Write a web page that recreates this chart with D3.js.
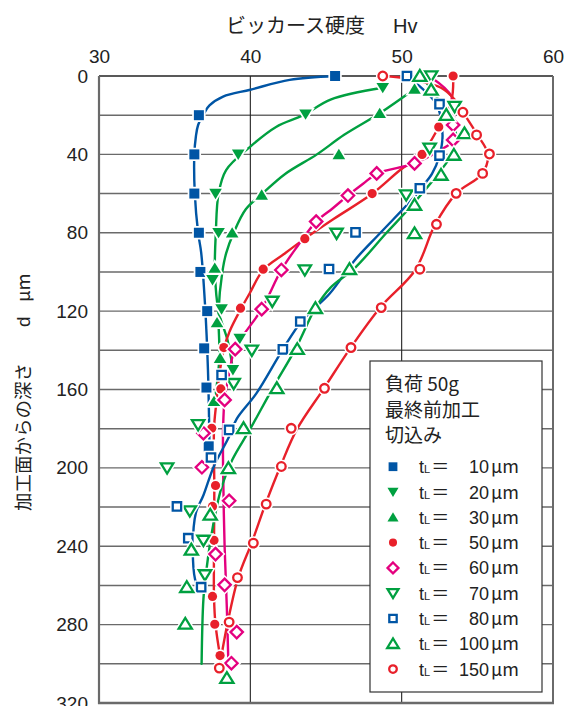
<!DOCTYPE html>
<html><head><meta charset="utf-8">
<script src="https://cdn.jsdelivr.net/npm/d3@7/dist/d3.min.js"></script>
<style>
html,body{margin:0;padding:0;background:#fff;}
svg{display:block;}
</style></head>
<body>
<script>
// ---------- data: [depth μm, Hv] ----------
const s10  = [[0,45.6],[20,36.6],[40,36.3],[60,36.3],[80,36.6],[100,36.7],[120,37.15],[139,36.95],[159,37.1],[189,37.25]];
const t10  = [[0,45.6],[2,42.6],[7,40],[10.5,38.2],[15,37.3],[19,36.95],[25,36.55],[31,36.4],[40,36.3],[60,36.33],[80,36.55],[90,36.75],[116,37.0],[150,37.2],[189,37.3]];
const s20  = [[6,48.75],[19.5,43.65],[40,39.2],[60,37.7],[80,37.9],[104,37.5],[119,38.1],[134,39.3],[150,38.85]];
const t20  = [[6,48.75],[12,45.3],[20,43.5],[26,41.7],[36,40],[48,38.4],[60,37.9],[80,37.72],[100,37.66],[120,37.9],[135,38.5],[150,38.85]];
const s30  = [[6.6,50.85],[19,48.55],[40,45.85],[60.7,40.75],[80,38.8],[98,37.65],[125.8,37.8],[144,38.0],[166,37.6]];
const t30  = [[6.6,50.85],[19,48.55],[30,46.2],[40,44.4],[50,42.3],[60,40.8],[68,39.7],[80,38.9],[90.5,38.4],[100,38.15],[120,37.9],[144,37.95],[166,37.65]];
const s50  = [[0,53.4],[26,52.45],[40,51.35],[60,48.05],[83,43.6],[98.6,40.85],[118.5,39.35],[138.6,38.25],[159.7,38.05],[179.8,37.45],[209,37.7],[219.7,37.5],[237,37.6],[265.6,37.5],[279.8,37.65],[295.8,38.0]];
const t50  = [[0,53.4],[12,53.3],[26,52.45],[40,51.3],[48,49.9],[60,48.07],[73,45.5],[83,43.6],[91,42.2],[99,40.85],[111,39.95],[119,39.37],[130,38.65],[139,38.25],[150,38.0],[167,37.75],[180,37.6],[210,37.62],[240,37.6],[266,37.6],[280,37.7],[296,38.0]];
const s60  = [[25,53.4],[32.6,53.4],[44.6,50.85],[49.7,48.35],[61,46.45],[74.3,44.35],[99,42.05],[119,40.75],[139.4,39.0],[165.3,38.3],[182.3,36.9],[199.7,36.8],[216.8,38.6],[244,37.7],[259.7,38.3],[283.8,39.1],[299.7,38.75]];
const t60  = [[1,52.0],[10.5,53.3],[25,53.45],[33,53.4],[38,52.5],[44.6,50.85],[49.7,48.4],[55,47.45],[61,46.45],[67.5,45.45],[74.3,44.35],[87,43.1],[99,42.05],[119,40.75],[139,39.0],[152,38.6],[165,38.3],[180,38.2],[200,38.2],[240,38.3],[272,38.45],[300,38.55]];
const s70  = [[0,51.95],[15.6,53.5],[36.9,51.85],[60.7,50.3],[80.3,45.7],[99,43.6],[115,41.45],[140,40.1],[157,38.9],[178,36.55],[200,34.5],[222,36.0],[237,36.9],[254.6,37.0]];
const t70  = [];
const s80  = [[0,50.35],[14.4,52.5],[40.6,52.5],[57.3,51.2],[79.8,46.95],[98.5,45.2],[125.3,43.3],[139.5,42.15],[152.6,38.1],[180.6,38.6],[194.7,37.4],[219.7,35.15],[235.9,35.9],[260.9,36.75]];
const t80  = [[0,50.35],[14.4,52.3],[30,52.7],[40.6,52.5],[50,52.0],[57,51.3],[62.4,50.75],[80,48.6],[94,46.9],[111,45.25],[125,43.4],[139.5,42.15],[162,40.4],[175,39.1],[184,38.6],[199,37.6],[214,36.9],[223,36.4],[240,36.2],[257,36.35],[262,36.6]];
const s100 = [[0,51.2],[7.1,51.95],[19.9,52.95],[29.3,54.15],[40.3,53.45],[50.5,52.6],[65.8,50.85],[80.3,50.85],[98.6,46.55],[118.5,44.3],[139.4,43.1],[159.4,41.75],[179.8,39.55],[200.2,38.55],[224,37.35],[241.8,36.1],[260.9,35.8],[279.6,35.7],[307.3,38.45]];
const t100 = [[0,51.2],[7,52.0],[20,53.0],[30,53.6],[40,53.3],[50,52.4],[67.5,50.5],[80,49.0],[98,46.9],[108,45.3],[118.5,44.3],[139,43.0],[159,41.5],[180,40.0],[196,38.8],[210,38.1],[221,37.75],[238,37.35],[252,37.1],[267,36.9],[300,36.78]];
const s150 = [[0,48.75],[18.5,54.05],[30.1,54.95],[39.8,55.8],[49.7,55.35],[59.9,53.6],[75.7,52.3],[98.6,51.2],[118.2,48.65],[138.6,46.65],[159.4,44.9],[179.8,42.7],[199.3,42.05],[218.5,41.05],[238.4,40.2],[256,39.15],[278.7,38.6],[302.2,37.95]];
const t150 = [[0,48.75],[1.5,50.5],[6,52.6],[12,53.5],[18.5,54.05],[30,55.0],[40,55.7],[50,55.3],[60,53.6],[76,52.2],[99,50.9],[118,48.6],[139,46.6],[159,44.9],[180,43.1],[199,42.0],[218.5,41.0],[238,40.1],[256,39.2],[279,38.5],[302,37.95]];

const legendLabels = ["10","20","30","50","60","70","80","100","150"];
const xTicks = [30,40,50,60];
const yTicks = [0,40,80,120,160,200,240,280,320];
const yGrid  = [20,40,60,80,100,120,140,160,180,200,220,240,260,280,300];
const xGrid  = [40,50];

const BLUE="#0055a5", GREEN="#00a040", RED="#e8202a", MAG="#e4007f";
const series = [
  {marks:s10,  trend:t10,  type:"sqF",  color:BLUE},
  {marks:s20,  trend:t20,  type:"tdF",  color:GREEN},
  {marks:s30,  trend:t30,  type:"tuF",  color:GREEN},
  {marks:s50,  trend:t50,  type:"ciF",  color:RED},
  {marks:s60,  trend:t60,  type:"dia",  color:MAG},
  {marks:s70,  trend:t70,  type:"td",   color:GREEN},
  {marks:s80,  trend:t80,  type:"sq",   color:BLUE},
  {marks:s100, trend:t100, type:"tu",   color:GREEN},
  {marks:s150, trend:t150, type:"ci",   color:RED}
];

const W=571,H=706;
const svg=d3.select("body").append("svg").attr("width",W).attr("height",H);
const x=d3.scaleLinear().domain([30,60]).range([99,553]);
const y=d3.scaleLinear().domain([0,320]).range([76,703]);
const TXT="#222";
const NUMF="'Liberation Sans', Arial, sans-serif";
const JPF="'Noto Sans CJK JP', sans-serif";

// grid
svg.append("g").selectAll("line").data(yGrid).join("line")
  .attr("x1",x(30)).attr("x2",x(60)).attr("y1",d=>y(d)).attr("y2",d=>y(d))
  .attr("stroke","#6a6a6a").attr("stroke-width",1.4);
svg.append("g").selectAll("line").data(xGrid).join("line")
  .attr("x1",d=>x(d)).attr("x2",d=>x(d)).attr("y1",y(0)).attr("y2",y(320))
  .attr("stroke","#222").attr("stroke-width",1.1);
// frame
svg.append("line").attr("x1",x(30)).attr("x2",x(60)).attr("y1",y(0)).attr("y2",y(0)).attr("stroke","#222").attr("stroke-width",1.4);
svg.append("line").attr("x1",x(60)).attr("x2",x(60)).attr("y1",y(0)).attr("y2",y(320)).attr("stroke","#6a6a6a").attr("stroke-width",2);
svg.append("line").attr("x1",x(30)).attr("x2",x(30)).attr("y1",y(0)).attr("y2",y(320)+1).attr("stroke","#6a6a6a").attr("stroke-width",2.2);
svg.append("line").attr("x1",x(30)-1).attr("x2",x(60)+1).attr("y1",y(320)).attr("y2",y(320)).attr("stroke","#6a6a6a").attr("stroke-width",2.4);

// axes (labels only)
const ax=svg.append("g").attr("transform",`translate(0,${y(0)})`)
  .call(d3.axisTop(x).tickValues(xTicks).tickSize(0).tickPadding(13));
ax.select(".domain").remove();
ax.selectAll("text").attr("font-family",NUMF).attr("font-size",19).attr("fill",TXT);
const ay=svg.append("g").attr("transform",`translate(${x(30)},0)`)
  .call(d3.axisLeft(y).tickValues(yTicks).tickSize(0).tickPadding(11));
ay.select(".domain").remove();
ay.selectAll("text").attr("font-family",NUMF).attr("font-size",19).attr("fill",TXT);

// titles
svg.append("text").attr("x",226).attr("y",33).attr("font-family",JPF).attr("font-size",20).attr("fill",TXT).text("ビッカース硬度");
svg.append("text").attr("x",393).attr("y",33).attr("font-family",NUMF).attr("font-size",20).attr("fill",TXT).text("Hv");
const yl=svg.append("g").attr("transform","translate(30,0) rotate(-90)");
yl.append("text").attr("x",-511).attr("y",0).attr("font-family",JPF).attr("font-size",18.5).attr("fill",TXT).text("加工面からの深さ");
yl.append("text").attr("x",-327).attr("y",0).attr("font-family",NUMF).attr("font-size",19).attr("fill",TXT).text("d");
yl.append("text").attr("x",-302).attr("y",0).attr("font-family",JPF).attr("font-size",18.5).attr("fill",TXT).text("μm");

// trend lines
const line=d3.line().x(d=>x(d[1])).y(d=>y(d[0])).curve(d3.curveCatmullRom.alpha(0.5));
const lg=svg.append("g");
series.forEach(s=>{
  if(s.trend.length>1) lg.append("path").attr("d",line(s.trend)).attr("fill","none")
    .attr("stroke",s.color).attr("stroke-width",2.4).attr("stroke-linecap","round");
});

// markers
function shape(type,cx,cy,k){
  k=k||1;
  const p=d3.path();
  const tri=(a,b,c)=>{p.moveTo(a[0],a[1]);p.lineTo(b[0],b[1]);p.lineTo(c[0],c[1]);p.closePath();};
  switch(type){
    case "sqF": p.rect(cx-5*k,cy-5*k,10*k,10*k); break;
    case "sq":  p.rect(cx-4.2*k,cy-4.2*k,8.4*k,8.4*k); break;
    case "tdF": tri([cx-6.3*k,cy-4.8*k],[cx+6.3*k,cy-4.8*k],[cx,cy+5.6*k]); break;
    case "td":  tri([cx-6.2*k,cy-4.6*k],[cx+6.2*k,cy-4.6*k],[cx,cy+5.6*k]); break;
    case "tuF": tri([cx-6.3*k,cy+4.8*k],[cx+6.3*k,cy+4.8*k],[cx,cy-5.6*k]); break;
    case "tu":  tri([cx-6.6*k,cy+4.8*k],[cx+6.6*k,cy+4.8*k],[cx,cy-6*k]); break;
    case "ciF": p.arc(cx,cy,4.6*k,0,2*Math.PI); break;
    case "ci":  p.moveTo(cx+4.3*k,cy); p.arc(cx,cy,4.3*k,0,2*Math.PI); break;
    case "dia": p.moveTo(cx,cy-6.2*k);p.lineTo(cx+6.2*k,cy);p.lineTo(cx,cy+6.2*k);p.lineTo(cx-6.2*k,cy);p.closePath(); break;
  }
  return p.toString();
}
const filled=t=>t.endsWith("F");
function drawMarker(g,type,cx,cy,color,k){
  const d=shape(type,cx,cy,k);
  g.append("path").attr("d",d).attr("fill","#fff").attr("stroke","#fff").attr("stroke-width",filled(type)?3.4:5.2).attr("stroke-linejoin","miter");
  if(filled(type)) g.append("path").attr("d",d).attr("fill",color);
  else g.append("path").attr("d",d).attr("fill","#fff").attr("stroke",color).attr("stroke-width",2.3).attr("stroke-linejoin","miter");
}
const mg=svg.append("g");
series.forEach(s=>{
  s.marks.forEach(m=>drawMarker(mg,s.type,x(m[1]),y(m[0]),s.color,1));
});

// legend
const L=svg.append("g");
L.append("rect").attr("x",370).attr("y",361).attr("width",172).attr("height",331)
  .attr("fill","#fff").attr("stroke","#333").attr("stroke-width",1.2);
["負荷 50g","最終前加工","切込み"].forEach((t,i)=>{
  L.append("text").attr("x",385).attr("y",391+i*25.5).attr("font-family",JPF).attr("font-size",19).attr("fill",TXT).text(t);
});
series.forEach((s,i)=>{
  const cy=466.7+i*25.3;
  drawMarker(L,s.type,393,cy,s.color,0.88);
  const t=L.append("text").attr("x",419).attr("y",cy+6.5).attr("fill",TXT).attr("font-family",NUMF).attr("font-size",18);
  t.append("tspan").text("t");
  t.append("tspan").attr("font-size",11).text("L");
  t.append("tspan").attr("font-family",JPF).attr("font-size",18).attr("dx",1).text("＝");
  L.append("text").attr("x",489).attr("y",cy+6.5).attr("text-anchor","end").attr("font-family",NUMF).attr("font-size",18).attr("fill",TXT).text(legendLabels[i]);
  L.append("text").attr("x",491).attr("y",cy+6.5).attr("font-family",JPF).attr("font-size",18).attr("fill",TXT).text("μm");
});
</script>
</body></html>
